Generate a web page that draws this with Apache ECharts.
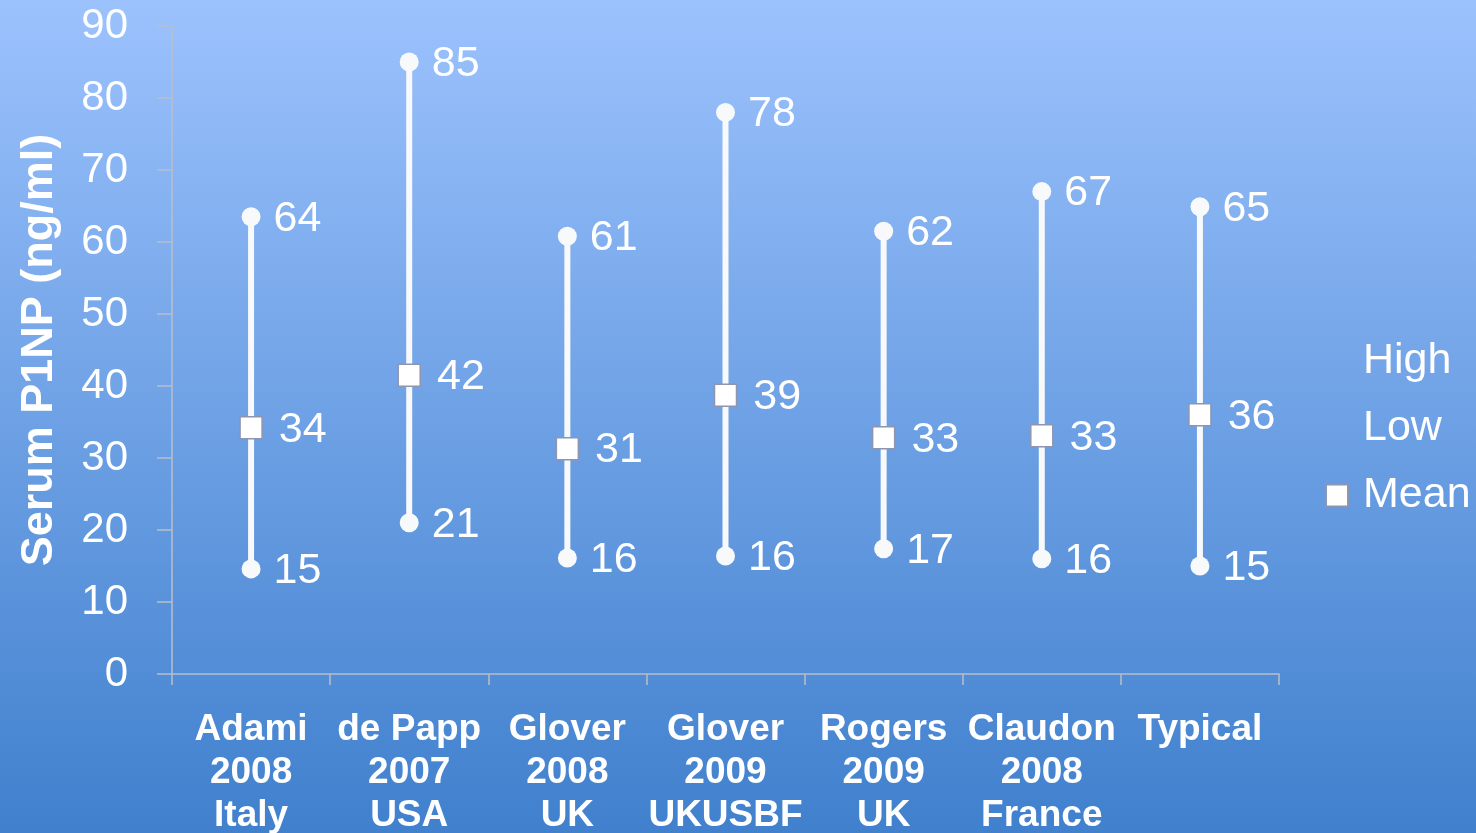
<!DOCTYPE html>
<html>
<head>
<meta charset="utf-8">
<script src="https://cdn.jsdelivr.net/npm/echarts@6/dist/echarts.min.js"></script>
<style>
html,body{margin:0;padding:0;width:1476px;height:833px;overflow:hidden;}
#chart{width:1476px;height:833px;}
</style>
</head>
<body>
<div id="chart"></div>
<script>
var categories = ['Adami\n2008\nItaly', 'de Papp\n2007\nUSA', 'Glover\n2008\nUK', 'Glover\n2009\nUKUSBF', 'Rogers\n2009\nUK', 'Claudon\n2008\nFrance', 'Typical'];
var highValues = [63.5, 85, 60.8, 78, 61.5, 67, 64.9];
var lowValues = [14.6, 21, 16.1, 16.4, 17.4, 16, 15];
var meanValues = [34.2, 41.5, 31.3, 38.7, 32.8, 33.1, 36];
var yTicks = { min: 0, max: 90, interval: 10 };

var chart = echarts.init(document.getElementById('chart'));
var fontFam = '"Liberation Sans", Arial, sans-serif';
var white = '#ffffff';
var axisGray = '#b8bfcc';

var rangeData = categories.map(function (c, i) { return [i, lowValues[i], highValues[i]]; });

function roundLabel(p) { return Math.round(Array.isArray(p.value) ? p.value[1] : p.value); }

var labelStyle = {
  show: true, position: 'right', distance: 13, color: white,
  fontSize: 43, fontFamily: fontFam, formatter: roundLabel, offset: [0, 2]
};

chart.setOption({
  backgroundColor: new echarts.graphic.LinearGradient(0, 0, 0, 1, [
    { offset: 0, color: '#9cc2fd' },
    { offset: 1, color: '#4080cd' }
  ]),
  animation: false,
  grid: { left: 172, right: 197, top: 26, bottom: 159, containLabel: false, outerBoundsMode: 'none' },
  legend: {
    orient: 'vertical', left: 1320, top: 335, itemGap: 24,
    itemWidth: 22, itemHeight: 22,
    textStyle: { color: white, fontSize: 43, fontFamily: fontFam, padding: [0, 0, 0, 10] },
    data: [
      { name: 'High', icon: 'rect', itemStyle: { color: 'rgba(0,0,0,0)', borderWidth: 0 } },
      { name: 'Low', icon: 'rect', itemStyle: { color: 'rgba(0,0,0,0)', borderWidth: 0 } },
      { name: 'Mean', icon: 'rect' }
    ],
    selectedMode: false
  },
  xAxis: {
    type: 'category', data: categories, boundaryGap: true,
    axisLine: { lineStyle: { color: axisGray, width: 1.5 } },
    axisTick: { show: true, length: 11, alignWithLabel: false, lineStyle: { color: axisGray, width: 1.5 } },
    axisLabel: {
      color: white, fontSize: 37, fontWeight: 'bold', fontFamily: fontFam,
      lineHeight: 43, margin: 34, interval: 0
    }
  },
  yAxis: {
    type: 'value', min: yTicks.min, max: yTicks.max, interval: yTicks.interval,
    name: 'Serum P1NP (ng/ml)', nameLocation: 'middle', nameGap: 110,
    nameTextStyle: { color: white, fontSize: 45, fontWeight: 'bold', fontFamily: fontFam },
    splitLine: { show: false },
    axisLine: { show: true, lineStyle: { color: axisGray, width: 1.5 } },
    axisTick: { show: true, length: 15, lineStyle: { color: axisGray, width: 1.5 } },
    axisLabel: { color: white, fontSize: 42, fontFamily: fontFam, margin: 44, padding: [4, 0, 0, 0] }
  },
  series: [
    {
      type: 'custom', name: 'range', data: rangeData, z: 1, silent: true,
      renderItem: function (params, api) {
        var x = api.value(0);
        var p1 = api.coord([x, api.value(1)]);
        var p2 = api.coord([x, api.value(2)]);
        return {
          type: 'line',
          shape: { x1: p1[0], y1: p1[1], x2: p2[0], y2: p2[1] },
          style: { stroke: '#f8f9fb', lineWidth: 6 }
        };
      }
    },
    {
      type: 'scatter', name: 'High', data: highValues, z: 3,
      symbol: 'circle', symbolSize: 19,
      itemStyle: { color: '#f8f9fb', opacity: 1 },
      label: labelStyle
    },
    {
      type: 'scatter', name: 'Low', data: lowValues, z: 3,
      symbol: 'circle', symbolSize: 19,
      itemStyle: { color: '#f8f9fb', opacity: 1 },
      label: labelStyle
    },
    {
      type: 'scatter', name: 'Mean', data: meanValues, z: 4,
      symbol: 'rect', symbolSize: 22,
      itemStyle: { color: '#ffffff', borderColor: '#8c96b2', borderWidth: 1.5, opacity: 1 },
      label: Object.assign({}, labelStyle, { distance: 16 })
    }
  ]
});
</script>
</body>
</html>
